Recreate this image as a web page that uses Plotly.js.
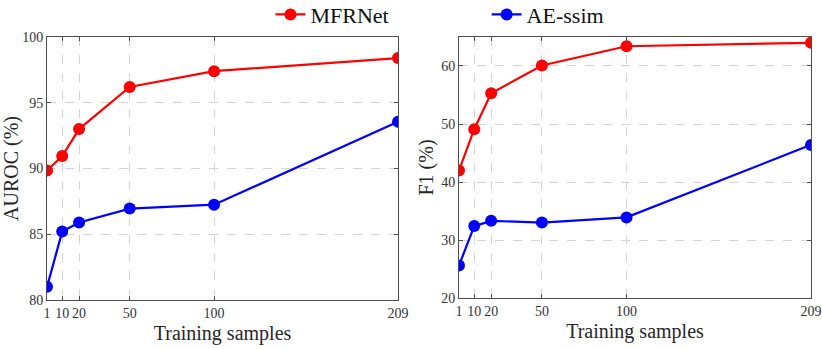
<!DOCTYPE html>
<html>
<head>
<meta charset="utf-8">
<script src="https://cdn.plot.ly/plotly-3.0.1.min.js"></script>
<style>html,body{margin:0;padding:0;background:#fff;}#chart{width:822px;height:349px;}</style>
</head>
<body>
<div id="chart"></div>
<script>
const samples = [1, 10, 20, 50, 100, 209];
const tickLabels = ['1', '10', '20', '50', '100', '209'];
const aurocMFRNet = [89.85, 90.95, 93.0, 96.2, 97.4, 98.4];
const aurocAE = [81.0, 85.2, 85.9, 86.95, 87.25, 93.55];
const f1MFRNet = [42.0, 49.1, 55.3, 60.1, 63.4, 64.0];
const f1AE = [25.6, 32.4, 33.3, 33.0, 33.9, 46.4];

const RED = '#ff0000', BLUE = '#0000ff';
const FONT = 'Liberation Serif';

function tr(x, y, name, color, xa, ya, show, leg) {
  return {x: x, y: y, name: name, type: 'scatter', mode: 'lines+markers',
    line: {color: color, width: 2.2}, marker: {color: color, size: 12},
    xaxis: xa, yaxis: ya, showlegend: show, legend: leg};
}

const data = [
  tr(samples, aurocMFRNet, 'MFRNet', RED, 'x', 'y', true, 'legend'),
  tr(samples, aurocAE, 'AE-ssim', BLUE, 'x', 'y', true, 'legend2'),
  tr(samples, f1MFRNet, 'MFRNet', RED, 'x2', 'y2', false, 'legend'),
  tr(samples, f1AE, 'AE-ssim', BLUE, 'x2', 'y2', false, 'legend2')
];

function xax(dom, anchor) {
  return {domain: dom, anchor: anchor, range: [1, 209], tickvals: samples, ticktext: tickLabels,
    showline: true, linecolor: '#4d4d4d', linewidth: 1, mirror: 'ticks', ticks: 'inside', ticklen: 4,
    tickcolor: '#4d4d4d', showgrid: true, gridcolor: '#d4d4d4', griddash: 'dash', gridwidth: 1,
    zeroline: false, tickfont: {family: FONT, size: 14, color: '#333'},
    title: {text: 'Training samples', font: {family: FONT, size: 20, color: '#262626'}, standoff: 6}};
}
function yax(dom, anchor, range, dtick, title) {
  return {domain: dom, anchor: anchor, range: range, dtick: dtick, tick0: 0,
    showline: true, linecolor: '#4d4d4d', linewidth: 1, mirror: 'ticks', ticks: 'inside', ticklen: 4,
    tickcolor: '#4d4d4d', showgrid: true, gridcolor: '#d4d4d4', griddash: 'dash', gridwidth: 1,
    zeroline: false, tickfont: {family: FONT, size: 14, color: '#333'},
    title: {text: title, font: {family: FONT, size: 20, color: '#262626'}, standoff: 2}};
}

const layout = {
  width: 822, height: 349, margin: {l: 0, r: 0, t: 0, b: 0, autoexpand: false},
  paper_bgcolor: '#fff', plot_bgcolor: '#fff',
  font: {family: FONT},
  xaxis: xax([0.0572, 0.4842], 'y'),
  yaxis: yax([0.1404, 0.894], 'x', [80, 100], 5, 'AUROC (%)'),
  xaxis2: xax([0.5584, 0.9866], 'y2'),
  yaxis2: yax([0.1461, 0.894], 'x2', [20, 65], 10, 'F1 (%)'),
  legend: {x: 0.329, y: 0.958, xanchor: 'left', yanchor: 'middle', bgcolor: 'rgba(0,0,0,0)',
    font: {family: FONT, size: 22, color: '#111'}},
  legend2: {x: 0.592, y: 0.958, xanchor: 'left', yanchor: 'middle', bgcolor: 'rgba(0,0,0,0)',
    font: {family: FONT, size: 22, color: '#111'}}
};

Plotly.newPlot('chart', data, layout, {displayModeBar: false, staticPlot: true});
</script>
</body>
</html>
